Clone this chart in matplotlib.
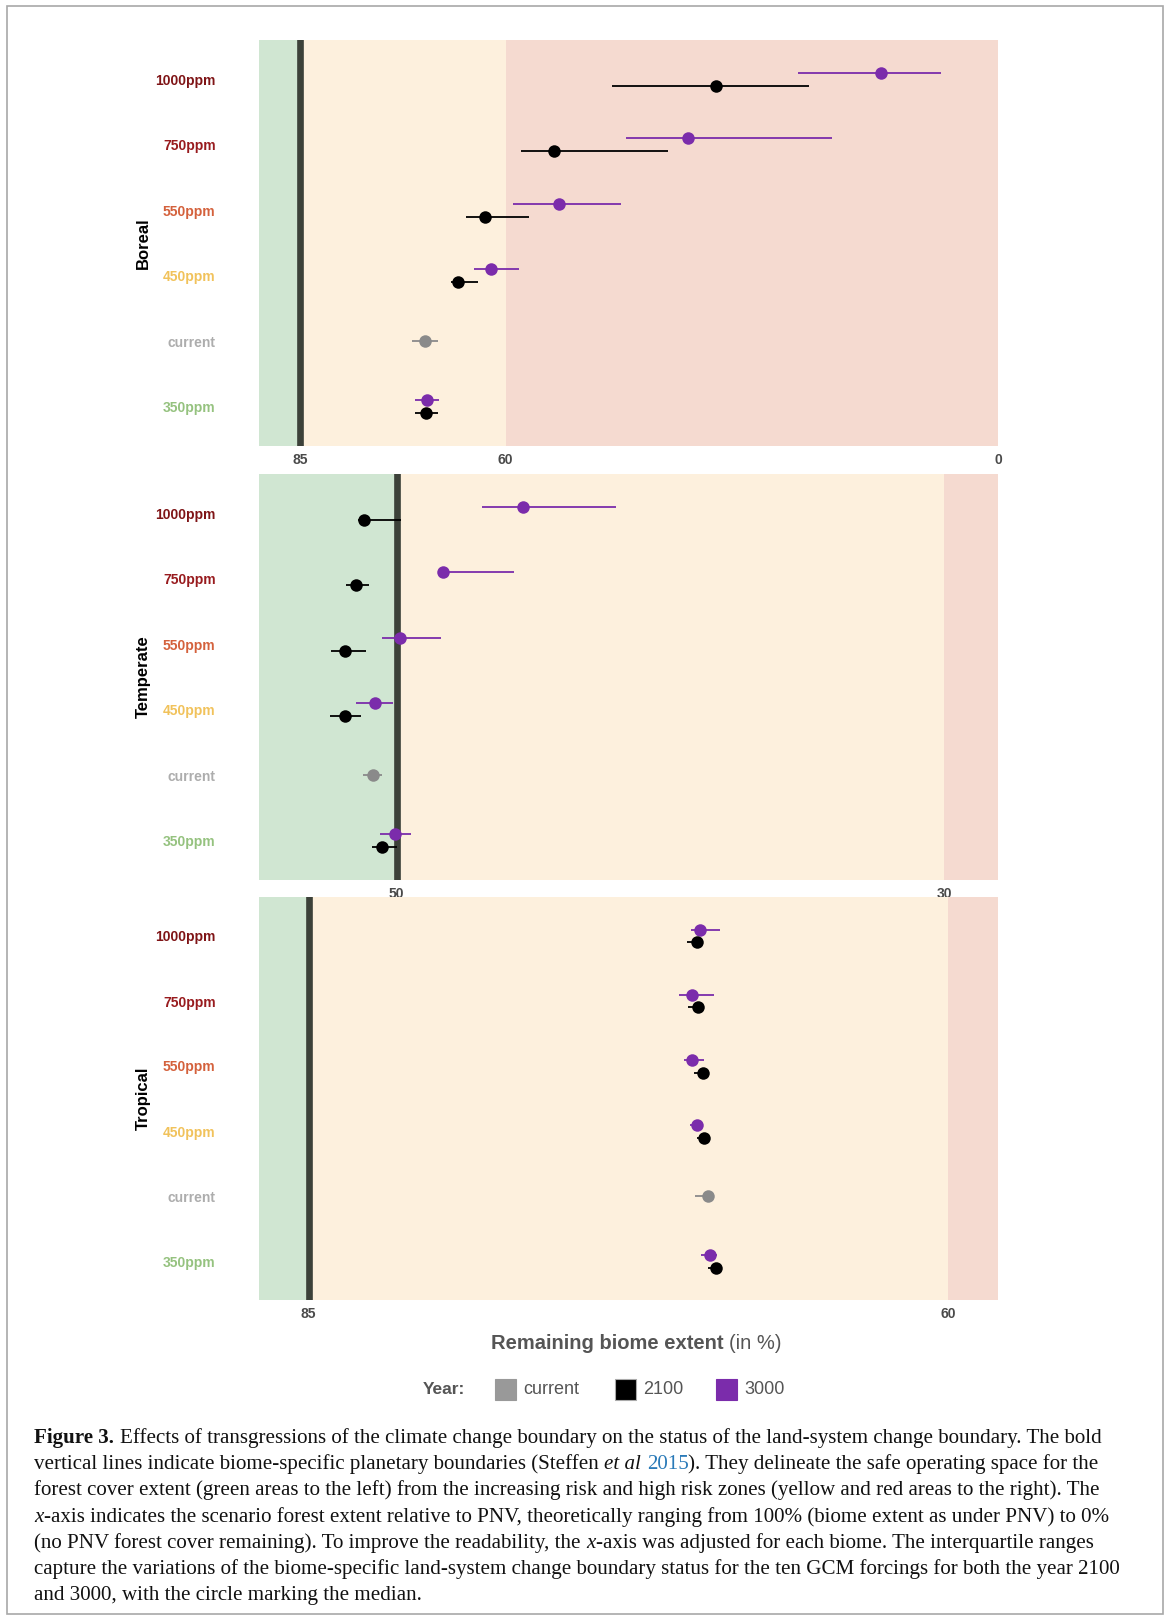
import matplotlib
matplotlib.use("Agg")
import matplotlib.pyplot as plt
from matplotlib.patches import Rectangle

plt.rcParams['font.family'] = ['Liberation Sans', 'DejaVu Sans']

# Data (remaining biome extent in %), scenarios ordered 350, 450, 550, 750, 1000 ppm
rows = ["350ppm", "current", "450ppm", "550ppm", "750ppm", "1000ppm"]  # bottom -> top
row_colors = ['#95c27f', '#adadad', '#f1c25b', '#d4613c', '#981b1e', '#7f1416']
scen_rows = [1, 3, 4, 5, 6]
biomes = ["Boreal", "Temperate", "Tropical"]

boreal_2100_med = [69.7, 65.8, 62.5, 54.1, 34.4]
boreal_2100_q75 = [71.0, 66.6, 64.8, 58.1, 47.0]
boreal_2100_q25 = [68.2, 63.4, 57.1, 40.2, 23.0]
boreal_3000_med = [69.6, 61.8, 53.5, 37.8, 14.3]
boreal_3000_q75 = [71.1, 63.9, 59.1, 45.3, 24.4]
boreal_3000_q25 = [68.1, 58.4, 45.9, 20.2, 7.0]
boreal_current = [69.8, 68.3, 71.4]  # median, q25, q75

temp_2100_med = [50.52, 51.87, 51.90, 51.50, 51.20]
temp_2100_q75 = [50.89, 52.45, 52.38, 51.85, 51.40]
temp_2100_q25 = [50.00, 51.29, 51.12, 51.00, 49.84]
temp_3000_med = [50.07, 50.80, 49.86, 48.30, 45.40]
temp_3000_q75 = [50.61, 51.49, 50.52, 48.40, 46.90]
temp_3000_q25 = [49.48, 50.14, 48.39, 45.70, 42.00]
temp_current = [50.87, 50.52, 51.22]

trop_2100_med = [69.09, 69.56, 69.60, 69.77, 69.82]
trop_2100_q75 = [69.41, 69.82, 69.94, 70.18, 70.20]
trop_2100_q25 = [68.85, 69.32, 69.36, 69.55, 69.60]
trop_3000_med = [69.30, 69.84, 70.01, 70.03, 69.69]
trop_3000_q75 = [69.66, 70.10, 70.31, 70.54, 70.07]
trop_3000_q25 = [69.04, 69.60, 69.54, 69.17, 68.91]
trop_current = [69.41, 69.22, 69.88]

boundary = [85, 50, 85]
high_risk = [60, 30, 60]
xlims = [(90.1, 0), (55.04, 28.04), (86.95, 58.06)]
xticks = [[85, 60, 0], [50, 30], [85, 60]]

data = [
    (boreal_2100_med, boreal_2100_q25, boreal_2100_q75, boreal_3000_med, boreal_3000_q25, boreal_3000_q75, boreal_current),
    (temp_2100_med, temp_2100_q25, temp_2100_q75, temp_3000_med, temp_3000_q25, temp_3000_q75, temp_current),
    (trop_2100_med, trop_2100_q25, trop_2100_q75, trop_3000_med, trop_3000_q25, trop_3000_q75, trop_current),
]

# colours
green = '#d0e6d2'
yellow = '#fdf0dd'
red = '#f5dad0'
line_col = '#3c4139'
purple = '#7b2cab'
grey = '#8a8a8a'

W, H = 1168, 1620
fig = plt.figure(figsize=(W / 100, H / 100), dpi=100)


def fx(px):
    return px / W


def fy(py):
    return 1 - py / H


panel_top = [40, 474, 897]
panel_bot = [446, 880, 1300]
ax_left, ax_right = 258.6, 998

for i, biome in enumerate(biomes):
    top, bot = panel_top[i], panel_bot[i]
    ax = fig.add_axes([fx(ax_left), fy(bot), (ax_right - ax_left) / W, (bot - top) / H])
    lo, hi = xlims[i]
    ax.set_xlim(lo, hi)
    ax.set_ylim(0.4, 6.6)
    ax.axvspan(lo, boundary[i], color=green, lw=0, zorder=0)
    ax.axvspan(boundary[i], high_risk[i], color=yellow, lw=0, zorder=0)
    ax.axvspan(high_risk[i], hi, color=red, lw=0, zorder=0)
    ax.axvline(boundary[i], color=line_col, lw=4.8, zorder=1)

    m21, l21, h21, m30, l30, h30, cur = data[i]
    y30 = [y + 0.1 for y in scen_rows]
    y21 = [y - 0.1 for y in scen_rows]
    ax.hlines(y30, l30, h30, color=purple, lw=1.3, zorder=2)
    ax.plot(m30, y30, 'o', color=purple, ms=9, mec='none', zorder=3)
    ax.hlines(y21, l21, h21, color='black', lw=1.3, zorder=2)
    ax.plot(m21, y21, 'o', color='black', ms=9, mec='none', zorder=3)
    ax.hlines([2], [cur[1]], [cur[2]], color=grey, lw=1.3, zorder=2)
    ax.plot([cur[0]], [2], 'o', color=grey, ms=9, mec='none', zorder=3)

    ax.set_yticks(range(1, 7))
    ax.set_yticklabels(rows, fontsize=10, fontweight='bold')
    for lab, c in zip(ax.get_yticklabels(), row_colors):
        lab.set_color(c)
    ax.set_xticks(xticks[i])
    ax.set_xticklabels([str(t) for t in xticks[i]], fontsize=10, color='#4a4a4a',
                       fontweight='bold')
    ax.tick_params(axis='y', length=0, pad=31)
    ax.tick_params(axis='x', length=0, pad=5)
    for s in ax.spines.values():
        s.set_visible(False)

    fig.text(fx(143), fy((top + bot) / 2), biome, rotation=90, fontsize=12,
             fontweight='bold', ha='center', va='center')

renderer = fig.canvas.get_renderer()


def text_width(s, **kw):
    t = fig.text(0, 0, "|" + s + "|", **kw)
    w1 = t.get_window_extent(renderer).width
    t.set_text("||")
    w2 = t.get_window_extent(renderer).width
    t.remove()
    return w1 - w2


def rich_line(x, y, chunks, size, family, ha='left'):
    widths = [text_width(s, size=size, family=family, **st) for s, st in chunks]
    if ha == 'center':
        x -= sum(widths) / 2
    for (s, st), w in zip(chunks, widths):
        stripped = s.strip()
        lead = s[:len(s) - len(s.lstrip())]
        off = text_width(lead, size=size, family=family, **st) if lead else 0
        if stripped:
            fig.text(fx(x + off), fy(y), stripped, size=size, family=family,
                     va='baseline', ha='left', **st)
        x += w
    return x


sans = ['Liberation Sans', 'DejaVu Sans']
txt_grey = '#555555'

# x-axis title
rich_line(636, 1349, [("Remaining biome extent", dict(weight='bold', color=txt_grey)),
                      (" (in %)", dict(color=txt_grey))], 14.5, sans, ha='center')

# legend
fig.text(fx(423), fy(1389), "Year:", fontsize=12.5, fontweight='bold', color=txt_grey,
         ha='left', va='center')
leg = [("current", '#999999', 495, 523), ("2100", 'black', 615, 643), ("3000", purple, 716, 744)]
for lab, c, sx, tx in leg:
    fig.patches.append(Rectangle((fx(sx), fy(1400)), 21 / W, 21 / H, transform=fig.transFigure,
                                 facecolor=c, edgecolor='#aaaaaa' if c == 'black' else c, lw=0.8))
    fig.text(fx(tx), fy(1389), lab, fontsize=13, color=txt_grey, ha='left', va='center')

# caption
serif = ['Liberation Serif', 'DejaVu Serif']
reg = dict(color='#111111')
bold = dict(color='#111111', weight='bold')
ital = dict(color='#111111', style='italic')
blue = dict(color='#2a7ab8')
caption = [
    [("Figure 3.", bold), (" Effects of transgressions of the climate change boundary on the status of the land-system change boundary. The bold", reg)],
    [("vertical lines indicate biome-specific planetary boundaries (Steffen ", reg), ("et al", ital), (" ", reg), ("2015", blue),
     ("). They delineate the safe operating space for the", reg)],
    [("forest cover extent (green areas to the left) from the increasing risk and high risk zones (yellow and red areas to the right). The", reg)],
    [("x", ital), ("-axis indicates the scenario forest extent relative to PNV, theoretically ranging from 100% (biome extent as under PNV) to 0%", reg)],
    [("(no PNV forest cover remaining). To improve the readability, the ", reg), ("x", ital),
     ("-axis was adjusted for each biome. The interquartile ranges", reg)],
    [("capture the variations of the biome-specific land-system change boundary status for the ten GCM forcings for both the year 2100", reg)],
    [("and 3000, with the circle marking the median.", reg)],
]
base = 14
w1 = sum(text_width(s, size=base, family=serif, **st) for s, st in caption[0])
cap_size = base * (1108 - 34.5) / w1
for k, line in enumerate(caption):
    rich_line(34.5, 1443 + k * 26.2, line, cap_size, serif)

# frame around the figure
fig.patches.append(Rectangle((fx(7), fy(1614)), (1163 - 7) / W, (1614 - 6) / H,
                             transform=fig.transFigure, fill=False, edgecolor='#a8a8a8', lw=1.2))

fig.savefig("out.png", dpi=100)
